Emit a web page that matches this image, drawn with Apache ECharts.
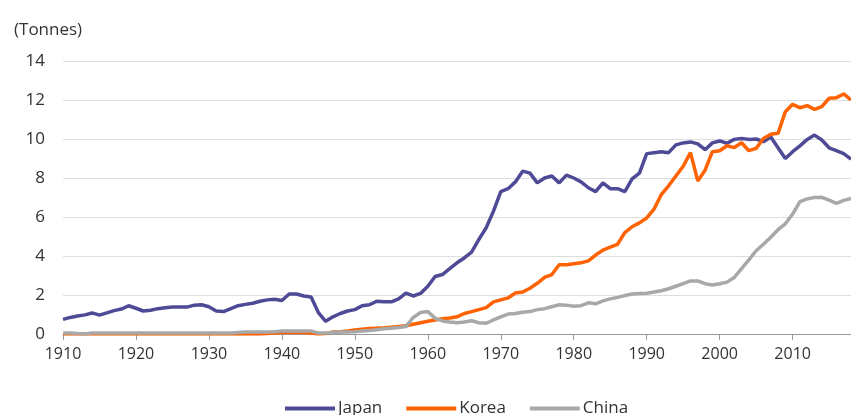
<!DOCTYPE html>
<html>
<head>
<meta charset="utf-8">
<script src="https://cdn.jsdelivr.net/npm/echarts@6/dist/echarts.min.js"></script>
<style>
  html, body { margin: 0; padding: 0; background: #fff; }
  #chart { width: 851px; height: 415px; }
</style>
</head>
<body>
<div id="chart"></div>
<script>
var years = []
for (var y = 1910; y <= 2018; y++) years.push(String(y))

var seriesNames = ['Japan', 'Korea', 'China']

// 1910 .. 2018
var japan = [
  0.75, 0.85, 0.92, 0.98, 1.08, 0.97, 1.08, 1.2, 1.28, 1.45,
  1.32, 1.18, 1.22, 1.3, 1.35, 1.38, 1.38, 1.38, 1.48, 1.5,
  1.4, 1.18, 1.15, 1.3, 1.45, 1.52, 1.58, 1.68, 1.75, 1.78,
  1.72, 2.05, 2.05, 1.95, 1.9, 1.1, 0.65, 0.88, 1.05, 1.18,
  1.25, 1.45, 1.5, 1.68, 1.65, 1.65, 1.8, 2.1, 1.95, 2.08,
  2.45, 2.95, 3.05, 3.35, 3.65, 3.9, 4.2, 4.85, 5.45, 6.3,
  7.3, 7.45, 7.8, 8.35, 8.25, 7.75, 8.0, 8.1, 7.75, 8.15,
  8.0, 7.8, 7.5, 7.3, 7.75, 7.45, 7.45, 7.3, 7.95, 8.25,
  9.25, 9.3, 9.35, 9.3, 9.7, 9.8, 9.85, 9.75, 9.45, 9.8,
  9.9, 9.78, 9.98, 10.03, 9.98, 10.0, 9.86, 10.1, 9.55, 9.0,
  9.35, 9.65, 9.98, 10.2, 9.95, 9.55, 9.4, 9.25, 8.97
]
var korea = [
  0, 0, 0, 0, 0, 0, 0, 0, 0, 0,
  0, 0, 0, 0, 0, 0, 0, 0, 0, 0,
  0, 0, 0, 0, 0, 0, 0, 0, 0.03, 0.05,
  0.08, 0.08, 0.08, 0.08, 0.05, 0, 0.02, 0.1, 0.12, 0.15,
  0.2, 0.25, 0.28, 0.3, 0.32, 0.35, 0.38, 0.42, 0.5, 0.58,
  0.65, 0.72, 0.78, 0.82, 0.88, 1.05, 1.15, 1.25, 1.35, 1.65,
  1.75, 1.85, 2.1, 2.15, 2.35, 2.6, 2.9, 3.05, 3.55, 3.55,
  3.6, 3.65, 3.75, 4.05, 4.3, 4.45, 4.6, 5.2, 5.5, 5.7,
  5.95, 6.4, 7.15, 7.6, 8.1, 8.6, 9.3, 7.85, 8.4, 9.35,
  9.4, 9.65, 9.56, 9.81, 9.4, 9.52, 10.03, 10.24, 10.29, 11.4,
  11.78, 11.6, 11.71, 11.52, 11.66, 12.09, 12.12, 12.31, 12.0
]
var china = [
  0.05, 0.05, 0.02, 0.0, 0.05, 0.05, 0.05, 0.05, 0.05, 0.05,
  0.05, 0.05, 0.05, 0.05, 0.05, 0.05, 0.05, 0.05, 0.05, 0.05,
  0.05, 0.05, 0.05, 0.05, 0.08, 0.1, 0.1, 0.1, 0.1, 0.12,
  0.15, 0.15, 0.15, 0.15, 0.15, 0.05, 0.05, 0.08, 0.1, 0.1,
  0.12, 0.15, 0.18, 0.22, 0.27, 0.3, 0.33, 0.38, 0.85, 1.1,
  1.15, 0.8, 0.67, 0.62, 0.58, 0.62, 0.68, 0.58, 0.55, 0.72,
  0.88, 1.02, 1.05, 1.12, 1.15, 1.25, 1.3, 1.4, 1.5, 1.48,
  1.42, 1.45, 1.6, 1.55, 1.7, 1.8, 1.88, 1.97, 2.05, 2.08,
  2.09, 2.15, 2.22, 2.32, 2.45, 2.58, 2.72, 2.72, 2.58, 2.51,
  2.58, 2.66, 2.9, 3.35, 3.8, 4.27, 4.6, 4.96, 5.35, 5.65,
  6.15, 6.79, 6.93, 7.0, 7.01, 6.86, 6.7, 6.85, 6.95
]

var colors = ['#4e4a96', '#ff6200', '#a8a8a8']
var font = '"Open Sans", "Noto Sans", sans-serif'

var chart = echarts.init(document.getElementById('chart'))

function makeLine(name, data, color) {
  return {
    name: name,
    type: 'line',
    data: data,
    symbol: 'none',
    lineStyle: { color: color, width: 3.5 },
    itemStyle: { color: color }
  }
}

var option = {
  animation: false,
  textStyle: { fontFamily: font },
  title: {
    text: '(Tonnes)',
    left: 9,
    top: 17,
    textStyle: { fontSize: 17, fontWeight: 'normal', color: '#333', fontFamily: font }
  },
  legend: {
    left: 280,
    top: 395,
    itemGap: 24,
    itemWidth: 50,
    itemHeight: 4,
    icon: 'rect',
    data: seriesNames,
    textStyle: { fontSize: 17, color: '#333', fontFamily: font, padding: [0, 0, 0, -2] }
  },
  grid: { left: 63, right: 0, top: 61, bottom: 81 },
  xAxis: {
    type: 'category',
    data: years,
    boundaryGap: false,
    axisLine: { lineStyle: { color: '#999', width: 1 } },
    axisTick: {
      length: 6,
      lineStyle: { color: '#999' },
      interval: function (i, v) { return Number(v) % 10 === 0 }
    },
    axisLabel: {
      color: '#333',
      fontSize: 16,
      margin: 12,
      interval: function (i, v) { return Number(v) % 10 === 0 }
    }
  },
  yAxis: {
    type: 'value',
    min: 0,
    max: 14,
    interval: 2,
    axisLine: { show: false },
    axisTick: { show: false },
    axisLabel: { color: '#333', fontSize: 17, margin: 18 },
    splitLine: { lineStyle: { color: '#dedede', width: 1 } }
  },
  series: [
    makeLine(seriesNames[0], japan, colors[0]),
    makeLine(seriesNames[1], korea, colors[1]),
    makeLine(seriesNames[2], china, colors[2])
  ]
}

chart.setOption(option)
</script>
</body>
</html>
